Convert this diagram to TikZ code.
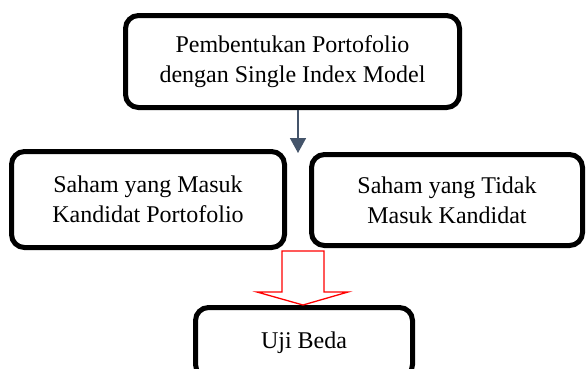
\documentclass[tikz,border=0pt]{standalone}
\usepackage{fontspec}
\setmainfont{Liberation Serif}
\usetikzlibrary{arrows.meta}
\definecolor{slate}{HTML}{44546A}

\begin{document}
\begin{tikzpicture}[x=1pt,y=-1pt,
  box/.style={draw=black,line width=5pt,rounded corners=13pt,fill=white,
    align=center,inner sep=0pt,font=\fontsize{24}{30}\selectfont}]
\useasboundingbox (0,0) rectangle (586,368);
\node[box,minimum width=334pt,minimum height=92pt] (model) at (292.5,61.5)
  {Pembentukan Portofolio\\dengan Single Index Model};
\node[box,minimum width=273pt,minimum height=96pt] (masuk) at (148,199.5)
  {Saham yang Masuk\\Kandidat Portofolio};
\node[box,minimum width=271pt,minimum height=91pt] (tidak) at (447,200)
  {Saham yang Tidak\\Masuk Kandidat};
\node[box,minimum width=217pt,minimum height=70pt] (uji) at (304,342.5)
  {Uji Beda};
% arrow into the two groups
\coordinate (split) at (298,153);
\draw[slate,line width=1.6pt,-{Triangle[width=16pt,length=15pt]}]
  (model.south -| split) -- (split);
% hollow red arrow down to the test
\draw[red,line width=1.3pt,fill=white,line join=miter]
  (282,251) -- (324,251) -- (324,292) -- (348,292) -- (303,305)
  -- (257,292) -- (282,292) -- cycle;
\end{tikzpicture}
\end{document}
